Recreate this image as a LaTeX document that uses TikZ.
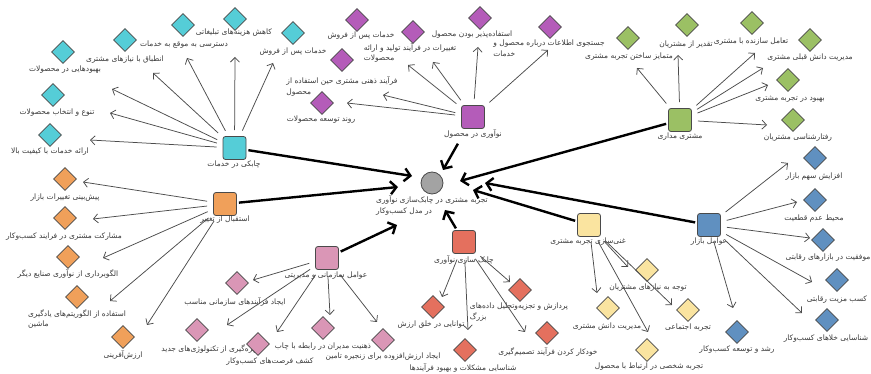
\documentclass[tikz,border=0pt]{standalone}
\usepackage{fontspec}
\newfontfamily\arabicfont[Script=Arabic]{DejaVu Sans}
\TeXXeTstate=1
\usetikzlibrary{arrows.meta,shapes.geometric}
\definecolor{cyanC}{HTML}{55CDD7}
\definecolor{orangeC}{HTML}{F0A05A}
\definecolor{purpleC}{HTML}{B45CB9}
\definecolor{greenC}{HTML}{9BC064}
\definecolor{blueC}{HTML}{6090C0}
\definecolor{yellowC}{HTML}{FAE4A0}
\definecolor{redC}{HTML}{E4705E}
\definecolor{pinkC}{HTML}{DA96B6}
\definecolor{grayC}{HTML}{A3A3A3}
\definecolor{edgeC}{HTML}{4A4A4A}
\definecolor{arrC}{HTML}{4C4C4C}
\definecolor{textC}{HTML}{3A3A3A}
\newcommand\lblfont{\arabicfont\fontsize{7.5}{10.5}\selectfont}
\newcommand\faR[1]{\beginR #1\endR}
\tikzset{
 hub/.style={rectangle, rounded corners=2.5pt, minimum width=23pt, minimum height=23pt, inner sep=0pt, draw=edgeC, line width=0.8pt},
 dia/.style={diamond, minimum width=23pt, minimum height=23pt, inner sep=0pt, draw=edgeC, line width=0.8pt},
 lbl/.style={font=\lblfont, text=textC, inner sep=0pt, align=left},
 thinarr/.style={draw=arrC, line width=0.75pt, -{Straight Barb[length=4.5pt,width=9pt]}, shorten <=6pt},
 thickarr/.style={draw=black, line width=2.4pt, -{Straight Barb[length=6pt,width=13pt]}, shorten <=2pt},
}
\begin{document}
\begin{tikzpicture}[x=1pt,y=-1pt]
\fill[white] (0,0) rectangle (871,374);
\useasboundingbox (0,0) rectangle (871,374);

% center
\node[circle, fill=grayC, draw=edgeC, line width=0.8pt, minimum size=22pt, inner sep=0pt] (ctr) at (432,183) {};
\node[lbl] (lctr) at (432,205.5) {\faR{تجربه مشتری در چابک‌سازی نوآوری}\\\faR{در مدل کسب‌وکار}};

% hubs
\node[hub, fill=cyanC] (hC) at (234.5,148) {};
\node[lbl] (lhC) at (234,165) {\faR{چابکی در خدمات}};
\node[hub, fill=orangeC] (hO) at (225,204) {};
\node[lbl] (lhO) at (225,220) {\faR{استقبال از تغییر}};
\node[hub, fill=purpleC] (hP) at (473,117) {};
\node[lbl] (lhP) at (473,134) {\faR{نوآوری در محصول}};
\node[hub, fill=greenC] (hG) at (680,120) {};
\node[lbl] (lhG) at (680,137) {\faR{مشتری مداری}};
\node[hub, fill=blueC] (hB) at (709,225) {};
\node[lbl] (lhB) at (709,242) {\faR{عوامل بازار}};
\node[hub, fill=yellowC] (hY) at (589,225) {};
\node[lbl] (lhY) at (588,242) {\faR{غنی‌سازی تجربه مشتری}};
\node[hub, fill=redC] (hR) at (464,242) {};
\node[lbl] (lhR) at (464,260) {\faR{چابک سازی نوآوری}};
\node[hub, fill=pinkC] (hK) at (327,258) {};
\node[lbl] (lhK) at (326,276) {\faR{عوامل سازمانی و مدیریتی}};

% cyan satellites
\node[dia, fill=cyanC] (cA) at (63,52) {};
\node[lbl] at (65,70) {\faR{بهبودهایی در محصولات}};
\node[dia, fill=cyanC] (cB) at (125,40) {};
\node[lbl] at (125,60) {\faR{انطباق با نیازهای مشتری}};
\node[dia, fill=cyanC] (cC) at (183,25) {};
\node[lbl] at (184,45) {\faR{دسترسی به موقع به خدمات}};
\node[dia, fill=cyanC] (cD) at (235,19) {};
\node[lbl] at (234,33) {\faR{کاهش هزینه‌های تبلیغاتی}};
\node[dia, fill=cyanC] (cE) at (293,33) {};
\node[lbl] at (293,52) {\faR{خدمات پس از فروش}};
\node[dia, fill=cyanC] (cG) at (53,95) {};
\node[lbl] at (57,113) {\faR{تنوع و انتخاب محصولات}};
\node[dia, fill=cyanC] (cH) at (50,135) {};
\node[lbl] at (50,152) {\faR{ارائه خدمات با کیفیت بالا}};
\coordinate (tcA) at (112,89);
\coordinate (tcB) at (153,73);
\coordinate (tcC) at (187,58);
\coordinate (tcD) at (235,57);
\coordinate (tcE) at (273,63);
\coordinate (tcG) at (110,113);
\coordinate (tcH) at (90,140);
\foreach \t in {tcA,tcB,tcC,tcD,tcE,tcG,tcH} \draw[thinarr] (hC) -- (\t);

% orange satellites
\node[dia, fill=orangeC] (oA) at (65,179) {};
\node[lbl] at (65,198) {\faR{پیش‌بینی تغییرات بازار}};
\node[dia, fill=orangeC] (oB) at (65,218) {};
\node[lbl] at (64,237) {\faR{مشارکت مشتری در فرایند کسب‌وکار}};
\node[dia, fill=orangeC] (oC) at (68,257) {};
\node[lbl] at (68,274) {\faR{الگوبرداری از نوآوری صنایع دیگر}};
\node[dia, fill=orangeC] (oD) at (77,297) {};
\node[lbl] at (77,319) {\faR{استفاده از الگوریتم‌های یادگیری}\\\faR{ماشین}};
\node[dia, fill=orangeC] (oE) at (123,337) {};
\node[lbl] at (123,355) {\faR{ارزش‌آفرینی}};
\coordinate (toA) at (83,182);
\coordinate (toB) at (93,219);
\coordinate (toC) at (103,258);
\coordinate (toD) at (110,301);
\coordinate (toE) at (147,325);
\foreach \t in {toA,toB,toC,toD,toE} \draw[thinarr] (hO) -- (\t);

% purple satellites
\node[dia, fill=purpleC] (pA) at (357,20) {};
\node[lbl] at (361,36) {\faR{خدمات پس از فروش}};
\node[dia, fill=purpleC] (pB) at (413,32) {};
\node[lbl] at (410,53) {\faR{تغییرات در فرآیند تولید و ارائه}\\\faR{محصولات}};
\node[dia, fill=purpleC] (pC) at (480,18) {};
\node[lbl] at (472,35) {\faR{استفاده‌پذیر بودن محصول}};
\node[dia, fill=purpleC] (pD) at (550,27) {};
\node[lbl] at (549,48) {\faR{جستجوی اطلاعات درباره محصول و}\\\faR{خدمات}};
\node[dia, fill=purpleC] (pE) at (342,60) {};
\node[lbl] at (342,86.5) {\faR{فرآیند ذهنی مشتری حین استفاده از}\\\faR{محصول}};
\node[dia, fill=purpleC] (pF) at (322,103) {};
\node[lbl] at (321,120) {\faR{روند توسعه محصولات}};
\coordinate (tpA) at (408,65);
\coordinate (tpB) at (433,62);
\coordinate (tpC) at (478,47);
\coordinate (tpD) at (548,50);
\coordinate (tpE) at (383,95);
\coordinate (tpF) at (347,103);
\foreach \t in {tpA,tpB,tpC,tpD,tpE,tpF} \draw[thinarr] (hP) -- (\t);

% green satellites
\node[dia, fill=greenC] (gA) at (628,38) {};
\node[lbl] at (629,57) {\faR{متمایز ساختن تجربه مشتری}};
\node[dia, fill=greenC] (gB) at (687,25) {};
\node[lbl] at (686,45) {\faR{تقدیر از مشتریان}};
\node[dia, fill=greenC] (gC) at (752,23) {};
\node[lbl] at (751,42) {\faR{تعامل سازنده با مشتری}};
\node[dia, fill=greenC] (gD) at (810,40) {};
\node[lbl] at (810,58) {\faR{مدیریت دانش قبلی مشتری}};
\node[dia, fill=greenC] (gE) at (788,80) {};
\node[lbl] at (790,99) {\faR{بهبود در تجربه مشتری}};
\node[dia, fill=greenC] (gF) at (793,120) {};
\node[lbl] at (798,138) {\faR{رفتارشناسی مشتریان}};
\coordinate (tgA) at (637,68);
\coordinate (tgB) at (678,55);
\coordinate (tgC) at (755,53);
\coordinate (tgD) at (763,68);
\coordinate (tgE) at (768,85);
\coordinate (tgF) at (767,125);
\foreach \t in {tgA,tgB,tgC,tgD,tgE,tgF} \draw[thinarr] (hG) -- (\t);

% blue satellites
\node[dia, fill=blueC] (bA) at (815,158) {};
\node[lbl] at (814,177) {\faR{افزایش سهم بازار}};
\node[dia, fill=blueC] (bB) at (815,200) {};
\node[lbl] at (814,219) {\faR{محیط عدم قطعیت}};
\node[dia, fill=blueC] (bC) at (823,240) {};
\node[lbl] at (828,258) {\faR{موفقیت در بازارهای رقابتی}};
\node[dia, fill=blueC] (bD) at (837,280) {};
\node[lbl] at (837,300) {\faR{کسب مزیت رقابتی}};
\node[dia, fill=blueC] (bE) at (827,320) {};
\node[lbl] at (826,339) {\faR{شناسایی خلاهای کسب‌وکار}};
\node[dia, fill=blueC] (bF) at (737,332) {};
\node[lbl] at (737,350) {\faR{رشد و توسعه کسب‌وکار}};
\coordinate (tbA) at (788,163);
\coordinate (tbB) at (797,202);
\coordinate (tbC) at (810,238);
\coordinate (tbD) at (812,282);
\coordinate (tbE) at (802,313);
\coordinate (tbF) at (733,308);
\foreach \t in {tbA,tbB,tbC,tbD,tbE,tbF} \draw[thinarr] (hB) -- (\t);

% yellow satellites
\node[dia, fill=yellowC] (yA) at (647,270) {};
\node[lbl] at (648,288) {\faR{توجه به نیازهای مشتریان}};
\node[dia, fill=yellowC] (yB) at (608,308) {};
\node[lbl] at (607,327) {\faR{مدیریت دانش مشتری}};
\node[dia, fill=yellowC] (yC) at (688,310) {};
\node[lbl] at (688,328) {\faR{تجربه اجتماعی}};
\node[dia, fill=yellowC] (yD) at (647,350) {};
\node[lbl] at (649,367) {\faR{تجربه شخصی در ارتباط با محصول}};
\coordinate (tyA) at (628,267);
\coordinate (tyB) at (597,293);
\coordinate (tyC) at (672,305);
\coordinate (tyD) at (648,332);
\foreach \t in {tyA,tyB,tyC,tyD} \draw[thinarr] (hY) -- (\t);

% red satellites
\node[dia, fill=redC] (rA) at (433,307) {};
\node[lbl] at (431,325) {\faR{توانایی در خلق ارزش}};
\node[dia, fill=redC] (rB) at (520,290) {};
\node[lbl] at (519,312) {\faR{پردازش و تجزیه‌وتحلیل داده‌های}\\\faR{بزرگ}};
\node[dia, fill=redC] (rC) at (465,350) {};
\node[lbl] at (463,368) {\faR{شناسایی مشکلات و بهبود فرآیندها}};
\node[dia, fill=redC] (rD) at (547,333) {};
\node[lbl] at (548,352) {\faR{خودکار کردن فرآیند تصمیم‌گیری}};
\coordinate (trA) at (442,297);
\coordinate (trB) at (510,282);
\coordinate (trC) at (468,330);
\coordinate (trD) at (525,332);
\foreach \t in {trA,trB,trC,trD} \draw[thinarr] (hR) -- (\t);

% pink satellites
\node[dia, fill=pinkC] (kA) at (237,283) {};
\node[lbl] at (235,302) {\faR{ایجاد فرآیندهای سازمانی مناسب}};
\node[dia, fill=pinkC] (kB) at (197,330) {};
\node[lbl] at (210,349) {\faR{بهره‌گیری از تکنولوژی‌های جدید}};
\node[lbl] at (323,347) {\faR{ذهنیت مدیران در رابطه با چاب}};
\node[dia, fill=pinkC] (kC) at (258,344) {};
\node[lbl] at (270,362) {\faR{کشف فرصت‌های کسب‌وکار}};
\node[dia, fill=pinkC] (kD) at (323,328) {};
\node[dia, fill=pinkC] (kE) at (383,340) {};
\node[lbl] at (383,357) {\faR{ایجاد ارزش‌افزوده برای زنجیره تامین}};
\coordinate (tkA) at (253,280);
\coordinate (tkB) at (227,325);
\coordinate (tkC) at (277,332);
\coordinate (tkD) at (330,315);
\coordinate (tkE) at (377,322);
\foreach \t in {tkA,tkB,tkC,tkD,tkE} \draw[thinarr] (hK) -- (\t);

% thick arrows to the center
\coordinate (xC) at (412,176);
\coordinate (xO) at (398,187);
\coordinate (xP) at (443,170);
\coordinate (xG) at (460,181);
\coordinate (xB) at (485,183);
\coordinate (xY) at (473,190);
\coordinate (xR) at (445,210);
\coordinate (xK) at (397,225);
\draw[thickarr] (hC) -- (xC);
\draw[thickarr] (hO) -- (xO);
\draw[thickarr, shorten <=17pt] (hP) -- (xP);
\draw[thickarr] (hG) -- (xG);
\draw[thickarr] (hB) -- (xB);
\draw[thickarr] (hY) -- (xY);
\draw[thickarr] (hR) -- (xR);
\draw[thickarr] (hK) -- (xK);
\end{tikzpicture}
\end{document}
